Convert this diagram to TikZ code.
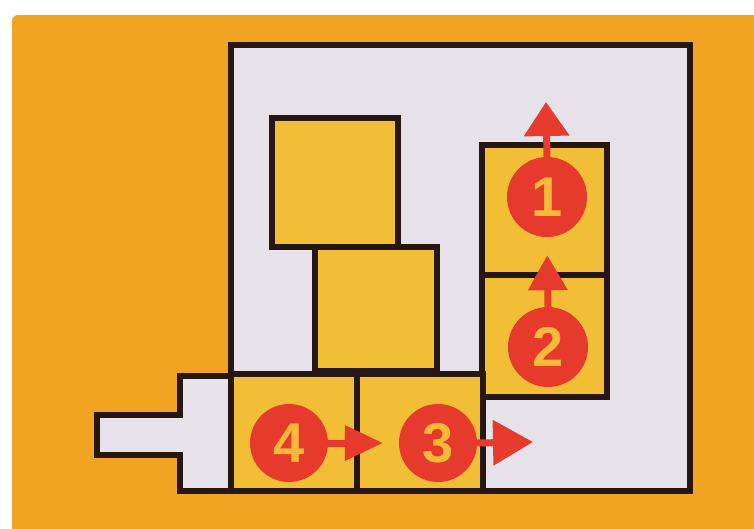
\documentclass[tikz,border=0pt]{standalone}
\usepackage{fontspec}
\setmainfont{Liberation Sans}
\usetikzlibrary{arrows.meta}
\definecolor{bgorange}{HTML}{F0A422}
\definecolor{lav}{HTML}{E7E1EA}
\definecolor{boxyel}{HTML}{F2BE36}
\definecolor{ink}{HTML}{261810}
\definecolor{mred}{HTML}{E63A2C}
\definecolor{digit}{HTML}{F6BA38}
\begin{document}
\begin{tikzpicture}[x=1pt,y=-1pt,
  blockbox/.style={draw=ink,fill=boxyel,line width=6pt,rectangle,inner sep=0pt,line join=miter},
  stepdisc/.style={circle,fill=mred,minimum size=80pt,inner sep=0pt,text=digit,
    font=\fontsize{56}{56}\selectfont\bfseries},
  moveline/.style={draw=mred,line width=7pt,-{Triangle[length=36pt,width=42pt]}}]
\useasboundingbox (0,0) rectangle (754,528);
\fill[white] (0,0) rectangle (754,528);
\fill[bgorange,rounded corners=6pt] (12,15) rectangle (770,540);
% frame with stub
\draw[ink,fill=lav,line width=6pt,line join=miter]
  (231,45) -- (690,45) -- (690,491) -- (180,491) -- (180,455) -- (97,455)
  -- (97,415) -- (180,415) -- (180,376) -- (231,376) -- cycle;
% blocks
\node[blockbox,minimum width=126pt,minimum height=129pt] (bA) at (335,182.5) {};
\node[blockbox,minimum width=122pt,minimum height=124pt] (bB) at (376,309) {};
\node[blockbox,minimum width=125pt,minimum height=130pt] (b1) at (544.5,210) {};
\node[blockbox,minimum width=125pt,minimum height=122pt] (b2) at (544.5,336) {};
\node[blockbox,minimum width=126pt,minimum height=117pt] (b4) at (294,432.5) {};
\node[blockbox,minimum width=126pt,minimum height=117pt] (b3) at (420,432.5) {};
% discs
\node[stepdisc] (c1) at (547,197) {1};
\node[stepdisc] (c2) at (548,347) {2};
\node[stepdisc,minimum size=78pt] (c4) at (289,443) {4};
\node[stepdisc,minimum size=78pt] (c3) at (438,443) {3};
\coordinate (up1) at (546,102);
\coordinate (out3) at (533,442);
% arrows
\draw[moveline,-{Triangle[length=34pt,width=44pt]}] (c1.north) -- (up1);
\draw[moveline,-{Triangle[length=35pt,width=38pt]},shorten >=18pt] (c2.north) -- (c1.south);
\draw[moveline,-{Triangle[length=38pt,width=34pt]},shorten >=16pt] (c4.east) -- (c3.west);
\draw[moveline,-{Triangle[length=40pt,width=44pt]}] (c3.east) -- (out3);
\end{tikzpicture}
\end{document}
